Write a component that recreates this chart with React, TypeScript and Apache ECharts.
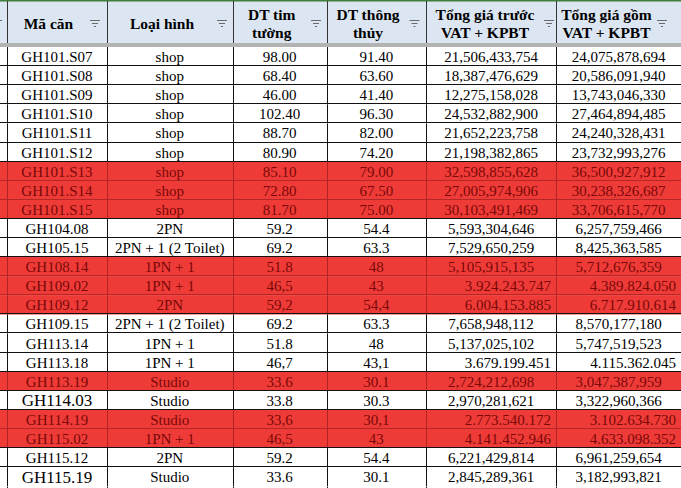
import React, { useEffect, useRef } from "react";
import * as echarts from "echarts";

const headers = [
  "Mã căn",
  "Loại hình",
  "DT tim\ntường",
  "DT thông\nthủy",
  "Tổng giá trước\nVAT + KPBT",
  "Tổng giá gồm\nVAT + KPBT",
];

const codes = [
  "GH101.S07", "GH101.S08", "GH101.S09", "GH101.S10", "GH101.S11", "GH101.S12",
  "GH101.S13", "GH101.S14", "GH101.S15", "GH104.08", "GH105.15", "GH108.14",
  "GH109.02", "GH109.12", "GH109.15", "GH113.14", "GH113.18", "GH113.19",
  "GH114.03", "GH114.19", "GH115.02", "GH115.12", "GH115.19",
];

const unitTypes = [
  "shop", "shop", "shop", "shop", "shop", "shop",
  "shop", "shop", "shop", "2PN", "2PN + 1 (2 Toilet)", "1PN + 1",
  "1PN + 1", "2PN", "2PN + 1 (2 Toilet)", "1PN + 1", "1PN + 1", "Studio",
  "Studio", "Studio", "1PN + 1", "2PN", "Studio",
];

const wallArea = [
  "98.00", "68.40", "46.00", "102.40", "88.70", "80.90",
  "85.10", "72.80", "81.70", "59.2", "69.2", "51.8",
  "46,5", "59,2", "69.2", "51.8", "46,7", "33.6",
  "33.8", "33,6", "46,5", "59.2", "33.6",
];

const netArea = [
  "91.40", "63.60", "41.40", "96.30", "82.00", "74.20",
  "79.00", "67.50", "75.00", "54.4", "63.3", "48",
  "43", "54,4", "63.3", "48", "43,1", "30.1",
  "30.3", "30,1", "43", "54.4", "30.1",
];

const priceBeforeVat = [
  "21,506,433,754", "18,387,476,629", "12,275,158,028", "24,532,882,900", "21,652,223,758", "21,198,382,865",
  "32,598,855,628", "27,005,974,906", "30,103,491,469", "5,593,304,646", "7,529,650,259", "5,105,915,135",
  "3.924.243.747", "6.004.153.885", "7,658,948,112", "5,137,025,102", "3.679.199.451", "2,724,212,698",
  "2,970,281,621", "2.773.540.172", "4.141.452.946", "6,221,429,814", "2,845,289,361",
];

const priceWithVat = [
  "24,075,878,694", "20,586,091,940", "13,743,046,330", "27,464,894,485", "24,240,328,431", "23,732,993,276",
  "36,500,927,912", "30,238,326,687", "33,706,615,770", "6,257,759,466", "8,425,363,585", "5,712,676,359",
  "4.389.824.050", "6.717.910.614", "8,570,177,180", "5,747,519,523", "4.115.362.045", "3,047,387,959",
  "3,322,960,366", "3.102.634.730", "4.633.098.352", "6,961,259,654", "3,182,993,821",
];

const highlightedCodes = [
  "GH101.S13", "GH101.S14", "GH101.S15", "GH108.14", "GH109.02", "GH109.12",
  "GH113.19", "GH114.19", "GH115.02",
];

const largeFontCodes = ["GH114.03", "GH115.19"];

// layout
const W = 681;
const H = 488;
const colEdges = [7, 107, 232.5, 326.5, 426, 556, 681];
const iconCenters = [95, 222, 316, 414.5, 549, 662];
const HEADER_H = 43;
const ROWS_TOP = 47;
const ROW_H = 19.1;
const RED = "#ee3b37";
const RED_TEXT = "#7a0808";
const SERIF = "'Liberation Serif', 'Times New Roman', serif";

const crisp = (v: number) => Math.round(v) + 0.5;

export default function App() {
  const ref = useRef<HTMLDivElement>(null);

  useEffect(() => {
    if (!ref.current) return;
    const chart = echarts.init(ref.current, null, { renderer: "svg" });

    const columns = [codes, unitTypes, wallArea, netArea, priceBeforeVat, priceWithVat];
    const rowsBottom = ROWS_TOP + codes.length * ROW_H;

    const renderItem = (params: any, api: any) => {
      const i = params.dataIndex;
      const c = api.coord([0, i]);
      const h = api.size([0, 1])[1];
      const yTop = c[1] - h / 2;
      const yMid = c[1] + 0.5;
      const xs = colEdges.map((e) => api.coord([e, i])[0]);
      const red = highlightedCodes.includes(codes[i]);
      const prevRed = i > 0 && highlightedCodes.includes(codes[i - 1]);
      const lineColor = red ? "#b02424" : "#111";
      const children: any[] = [
        {
          type: "rect",
          shape: { x: 0, y: yTop, width: W, height: h + 0.5 },
          style: { fill: red ? RED : "#ffffff" },
        },
      ];
      if (i > 0) {
        children.push({
          type: "line",
          shape: { x1: 0, y1: crisp(yTop) - 1, x2: W, y2: crisp(yTop) - 1 },
          style: { stroke: red && prevRed ? "#b52626" : "#111", lineWidth: 1 },
        });
      }
      for (let k = 0; k < xs.length - 1; k++) {
        children.push({
          type: "line",
          shape: { x1: crisp(xs[k]), y1: yTop, x2: crisp(xs[k]), y2: yTop + h },
          style: { stroke: lineColor, lineWidth: 1 },
        });
      }
      columns.forEach((col, k) => {
        const txt = col[i];
        const rightAlign = /\d\.\d{3}\.\d{3}/.test(txt);
        const big = k === 0 && largeFontCodes.includes(txt);
        const x = rightAlign ? xs[k + 1] - 5 : (xs[k] + xs[k + 1]) / 2;
        children.push({
          type: "text",
          style: {
            text: txt,
            x,
            y: yMid,
            align: rightAlign ? "right" : "center",
            verticalAlign: "middle",
            textAlign: rightAlign ? "right" : "center",
            textVerticalAlign: "middle",
            font: `${big ? 17 : 15}px ${SERIF}`,
            fill: red ? RED_TEXT : "#000",
          },
        });
      });
      return { type: "group", children };
    };

    const graphics: any[] = [
      { type: "rect", shape: { x: 0, y: 0, width: W, height: HEADER_H }, style: { fill: "#dce6f2" }, z: 1 },
      { type: "rect", shape: { x: 0, y: 0, width: W, height: 1.5 }, style: { fill: "#3f7f3a" }, z: 2 },
      { type: "rect", shape: { x: 0, y: HEADER_H, width: W, height: ROWS_TOP - HEADER_H }, style: { fill: "#b3b3b3" }, z: 2 },
    ];
    colEdges.slice(0, -1).forEach((e) => {
      graphics.push({
        type: "line",
        shape: { x1: crisp(e), y1: 1, x2: crisp(e), y2: HEADER_H },
        style: { stroke: "#333", lineWidth: 1 },
        z: 2,
      });
      graphics.push({
        type: "line",
        shape: { x1: crisp(e), y1: rowsBottom, x2: crisp(e), y2: H },
        style: { stroke: "#111", lineWidth: 1 },
        z: 2,
      });
    });
    graphics.push({
      type: "line",
      shape: { x1: 0, y1: crisp(rowsBottom) - 1, x2: W, y2: crisp(rowsBottom) - 1 },
      style: { stroke: "#111", lineWidth: 1 },
      z: 2,
    });
    const drawIcon = (cx: number) => {
      [[10, 20.5], [6, 23.5], [2, 26.5]].forEach(([w, y]) => {
        graphics.push({
          type: "line",
          shape: { x1: cx - w / 2, y1: y, x2: cx + w / 2, y2: y },
          style: { stroke: "#6a6a6a", lineWidth: 1 },
          z: 3,
        });
      });
    };
    drawIcon(-3);
    headers.forEach((hText, k) => {
      const left = colEdges[k];
      const iconLeft = iconCenters[k] - 5;
      graphics.push({
        type: "text",
        style: {
          text: hText,
          x: (left + iconLeft) / 2,
          y: 23,
          align: "center",
          verticalAlign: "middle",
          textAlign: "center",
          textVerticalAlign: "middle",
          font: `bold 15.5px ${SERIF}`,
          lineHeight: 18,
          fill: "#000",
        },
        z: 3,
      });
      drawIcon(iconCenters[k]);
    });

    chart.setOption({
      animation: false,
      backgroundColor: "#ffffff",
      grid: { left: 0, right: 0, top: ROWS_TOP, height: codes.length * ROW_H, containLabel: false },
      xAxis: { type: "value", min: 0, max: W, show: false },
      yAxis: { type: "category", data: codes, inverse: true, show: false },
      series: [
        {
          type: "custom",
          coordinateSystem: "cartesian2d",
          renderItem,
          data: codes.map((_, i) => [0, i]),
          silent: true,
        },
      ],
      graphic: graphics,
    });

    return () => chart.dispose();
  }, []);

  return (
    <div
      ref={ref}
      style={{ position: "fixed", left: 0, top: 0, width: W, height: H, background: "#fff" }}
    />
  );
}
